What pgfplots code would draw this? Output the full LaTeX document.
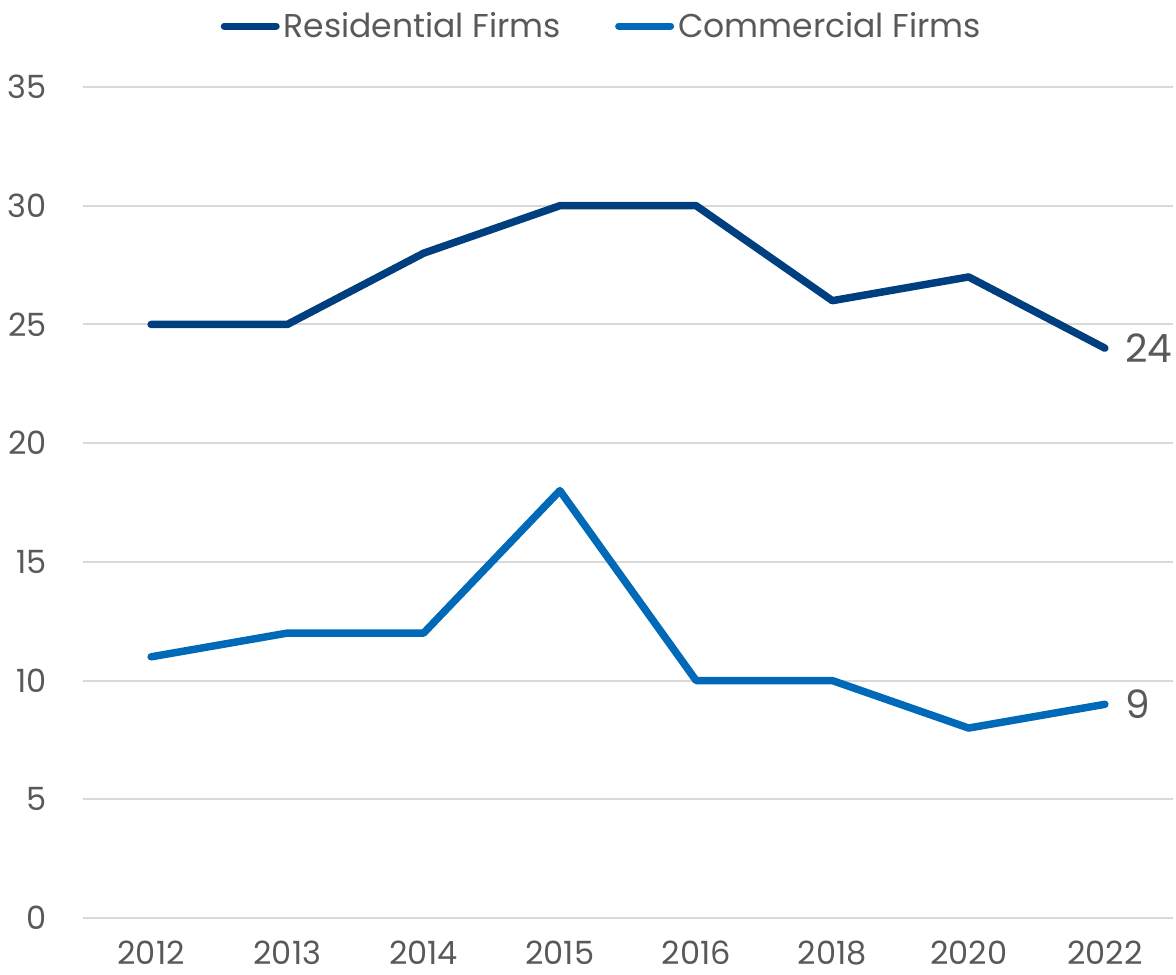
\documentclass[border=0pt]{standalone}
\usepackage{pgfplots}
\pgfplotsset{compat=1.18}
\usepackage{fontspec}
\setmainfont{Poppins}
\definecolor{resblue}{HTML}{003F7F}
\definecolor{comblue}{HTML}{006AB8}
\definecolor{txtgray}{HTML}{595959}
\definecolor{gridgray}{HTML}{D9D9D9}

\begin{document}
\begin{tikzpicture}
% picture frame: 588pt x 487pt, axis box at its lower left origin
\useasboundingbox (-41.5pt,-28pt) rectangle (546.5pt,459pt);
\begin{axis}[
    scale only axis,
    anchor=south west, at={(0pt,0pt)},
    width=545pt, height=415.5pt,
    xmin=-0.5, xmax=7.5,
    ymin=0, ymax=35,
    ytick={0,5,...,35},
    xtick={0,...,7},
    xticklabels={2012,2013,2014,2015,2016,2018,2020,2022},
    axis line style={draw=none},
    major tick length=0pt,
    ymajorgrids,
    grid style={gridgray, line width=1pt},
    /pgf/number format/assume math mode=true,
    tick label style={font=\fontsize{16}{18}\selectfont, text=txtgray, inner sep=0pt},
    xticklabel style={anchor=center, yshift=-17.5pt},
    yticklabel style={anchor=east, xshift=-18pt},
    legend style={at={(0.477,1.0734)}, anchor=center, draw=none, fill=none,
        legend columns=2, font=\fontsize{16.5}{18}\selectfont, text=txtgray,
        /tikz/every even column/.append style={column sep=25pt},
        /tikz/every odd column/.append style={column sep=0pt}},
    legend image code/.code={\draw[#1, line width=3.5pt, line cap=round] (0pt,0pt) -- (26pt,0pt);},
    legend cell align=left,
    clip=false,
]
\addplot[resblue, line width=3.75pt, line join=round, line cap=round] coordinates {
    (0,25)(1,25)(2,28)(3,30)(4,30)(5,26)(6,27)(7,24)
};
\addlegendentry{Residential Firms}
\addplot[comblue, line width=3.75pt, line join=round, line cap=round] coordinates {
    (0,11)(1,12)(2,12)(3,18)(4,10)(5,10)(6,8)(7,9)
};
\addlegendentry{Commercial Firms}
\node[anchor=west, inner sep=0pt, xshift=10pt, text=txtgray, font=\fontsize{19.5}{21}\selectfont] at (axis cs:7,24) {24};
\node[anchor=west, inner sep=0pt, xshift=10pt, text=txtgray, font=\fontsize{19.5}{21}\selectfont] at (axis cs:7,9) {9};
\end{axis}
\end{tikzpicture}
\end{document}
